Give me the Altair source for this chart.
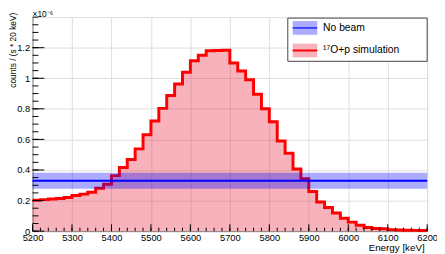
import altair as alt
import pandas as pd

# ---- data (counts in units of 1e-6 / (s * 20 keV)) ----
bin_lo = list(range(5200, 6200, 20))
counts = [0.202, 0.206, 0.210, 0.214, 0.220, 0.233, 0.242, 0.255, 0.280, 0.307,
          0.363, 0.416, 0.469, 0.538, 0.630, 0.720, 0.803, 0.887, 0.963, 1.040,
          1.114, 1.150, 1.180, 1.182, 1.183, 1.100, 1.047, 0.990, 0.895, 0.800,
          0.715, 0.589, 0.510, 0.406, 0.343, 0.259, 0.190, 0.154, 0.118, 0.084,
          0.059, 0.038, 0.024, 0.017, 0.015, 0.010, 0.008, 0.006, 0.005, 0.004]
x_major = list(range(5200, 6201, 100))
x_minor = list(range(5200, 6201, 20))
y_major = [0, 0.2, 0.4, 0.6, 0.8, 1.0, 1.2]
y_minor = [round(i * 0.05, 2) for i in range(0, 29)]
nobeam_mean = 0.33
nobeam_lo = 0.278
nobeam_hi = 0.382
legend_labels = ["No beam", "\u00b9\u2077O+p simulation"]

W, H = 402, 218
FONT = "Liberation Sans"
PINK = "#e8102a"

edges = bin_lo + [6200]
vals = counts + [counts[-1]]
hist = pd.DataFrame({"x": edges, "y": vals})

xs = alt.Scale(domain=[5200, 6200], nice=False, zero=False)
ys = alt.Scale(domain=[0, 1.4], nice=False, zero=True)

xaxis = alt.Axis(values=x_major, format="d", title="Energy [keV]", grid=True,
                 ticks=False, tickSize=0, labelOverlap=False, labelFlush=False,
                 titleX=W - 3, titleY=17, titleAlign="right", titleBaseline="middle",
                 titleFontSize=10, titleFontWeight="normal", labelPadding=2,
                 labelFontSize=9.5)
yaxis = alt.Axis(values=y_major, format=".1~f", title="counts / (s * 20 keV)", grid=True,
                 ticks=False, tickSize=0, labelOverlap=False, labelFlush=False,
                 titleX=-20, titleY=-5, titleAlign="right", titleAngle=270,
                 titleBaseline="middle", titleFontSize=8.5, titleFontWeight="normal",
                 labelPadding=3, labelFontSize=9.5)

X = lambda: alt.X("x:Q", scale=xs, axis=xaxis)
Y = lambda: alt.Y("y:Q", scale=ys, axis=yaxis)

area = alt.Chart(hist).mark_area(interpolate="step-after", color=PINK, opacity=0.32).encode(
    x=X(), y=Y())
line = alt.Chart(hist).mark_line(interpolate="step-after", color="#ff0000", strokeWidth=3).encode(
    x=X(), y=Y())

one = pd.DataFrame({"a": [0]})
nb = pd.DataFrame({"y": [nobeam_hi], "y2": [nobeam_lo], "m": [nobeam_mean]})
band = alt.Chart(nb).mark_rect(color="#0000ff", opacity=0.33).encode(
    x=alt.value(0), x2=alt.value(W), y=Y(), y2="y2:Q")
bline = alt.Chart(nb).mark_rule(color="#0000ff", strokeWidth=2).encode(
    x=alt.value(0), x2=alt.value(W), y=alt.Y("m:Q", scale=ys, axis=yaxis))

ytm = alt.Chart(pd.DataFrame({"y": y_major})).mark_rule(color="black").encode(
    y=Y(), x=alt.value(0), x2=alt.value(12))
ytn = alt.Chart(pd.DataFrame({"y": y_minor})).mark_rule(color="black").encode(
    y=Y(), x=alt.value(0), x2=alt.value(6))
xtm = alt.Chart(pd.DataFrame({"x": x_major})).mark_rule(color="black").encode(
    x=X(), y=alt.value(H), y2=alt.value(H - 7))
xtn = alt.Chart(pd.DataFrame({"x": x_minor})).mark_rule(color="black").encode(
    x=X(), y=alt.value(H), y2=alt.value(H - 3.5))

# legend
lbox = alt.Chart(one).mark_rect(fill="white", stroke="#444", strokeWidth=1).encode(
    x=alt.value(260), x2=alt.value(402), y=alt.value(1), y2=alt.value(45))
sw1 = alt.Chart(one).mark_rect(color="#0000ff", opacity=0.33).encode(
    x=alt.value(265), x2=alt.value(290), y=alt.value(4), y2=alt.value(18))
sl1 = alt.Chart(one).mark_rule(color="#0000ff", strokeWidth=1.2).encode(
    x=alt.value(265), x2=alt.value(290), y=alt.value(11))
sw2 = alt.Chart(one).mark_rect(color=PINK, opacity=0.32).encode(
    x=alt.value(265), x2=alt.value(290), y=alt.value(27), y2=alt.value(41))
sl2 = alt.Chart(one).mark_rule(color="#ff0000", strokeWidth=2).encode(
    x=alt.value(265), x2=alt.value(290), y=alt.value(34))
lt = alt.Chart(pd.DataFrame({"t": legend_labels, "py": [11, 34]})).mark_text(
    align="left", baseline="middle", font=FONT, fontSize=10.5, color="black").encode(
    text="t:N", x=alt.value(296), y=alt.Y("py:Q", scale=None))

exp = alt.Chart(one).mark_text(align="left", baseline="alphabetic", font=FONT, fontSize=8.5,
                               color="black", text="\u00d710\u207b\u2076").encode(
    x=alt.value(0), y=alt.value(0))

chart = alt.layer(area, line, band, bline, ytm, ytn, xtm, xtn,
                  lbox, sw1, sl1, sw2, sl2, lt, exp).properties(
    width=W, height=H,
    autosize=alt.AutoSizeParams(type="none"),
    padding={"left": 25, "top": 7, "right": 10, "bottom": 21},
).configure_view(stroke="#888", strokeWidth=1).configure_axis(
    labelFont=FONT, titleFont=FONT, labelColor="black", titleColor="black",
    domainColor="black", ticks=False, tickSize=0, gridColor="#333", gridDash=[1, 2],
    gridOpacity=0.7, labelFlush=False, labelOverlap=False,
).configure(background="white")

chart.save("out.html", embed_options={"renderer": "svg", "actions": False})
